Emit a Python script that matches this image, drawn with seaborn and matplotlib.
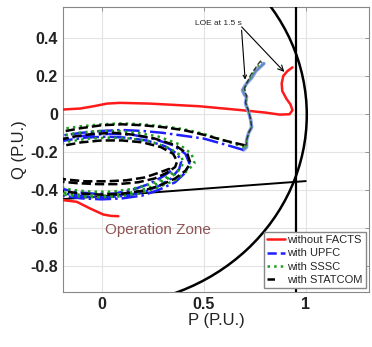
import numpy as np
import pandas as pd
import seaborn as sns
import matplotlib
matplotlib.use("Agg")
import matplotlib.pyplot as plt
from matplotlib.patches import Circle

sns.set_style("white")
plt.rcParams["font.family"] = ["Liberation Sans", "DejaVu Sans"]

# without FACTS (two pieces)
red_p = [-0.25, -0.19, -0.106, -0.04, 0.025, 0.09, 0.237, 0.48, 0.69, 0.80, 0.873,
         0.92, 0.935, 0.925, 0.905, 0.885, 0.882, 0.89, 0.91, 0.935]
red_q = [0.023, 0.023, 0.028, 0.04, 0.054, 0.058, 0.054, 0.04, 0.019, 0.007, -0.004,
         -0.002, 0.019, 0.05, 0.08, 0.12, 0.16, 0.20, 0.225, 0.245]
red2_p = [-0.25, -0.19, -0.122, -0.057, 0.008, 0.045, 0.082]
red2_q = [-0.455, -0.454, -0.463, -0.498, -0.53, -0.537, -0.539]

# with UPFC: fault-on wiggle, then the swing loops
upfc_wig_p = [0.795, 0.775, 0.755, 0.735, 0.71, 0.69, 0.70, 0.71, 0.705, 0.72, 0.73, 0.735, 0.72, 0.71, 0.71, 0.695]
upfc_wig_q = [0.265, 0.245, 0.225, 0.19, 0.16, 0.125, 0.10, 0.09, 0.055, 0.01, -0.03, -0.07, -0.10, -0.14, -0.175, -0.19]
upfc_p = [0.695, 0.60, 0.50, 0.40, 0.30, 0.20, 0.10, 0.00, -0.10, -0.20, -0.30, -0.36, -0.36, -0.30, -0.20,
          -0.10, 0.00, 0.10, 0.20, 0.28, 0.36, 0.41, 0.43, 0.41, 0.35, 0.25, 0.15, 0.05, -0.05, -0.15,
          -0.25, -0.33, -0.34, -0.28, -0.18, -0.08, 0.02, 0.12, 0.21, 0.28, 0.34, 0.38, 0.39, 0.37,
          0.31, 0.22, 0.12, 0.02, -0.08, -0.18, -0.27, -0.32, -0.31, -0.24, -0.14, -0.04, 0.06, 0.15,
          0.23, 0.30, 0.34]
upfc_q = [-0.19, -0.16, -0.13, -0.115, -0.10, -0.09, -0.085, -0.09, -0.10, -0.115, -0.15, -0.22, -0.32, -0.39, -0.43,
          -0.445, -0.45, -0.445, -0.43, -0.40, -0.36, -0.31, -0.26, -0.21, -0.165, -0.13, -0.11, -0.105, -0.11, -0.125,
          -0.15, -0.21, -0.31, -0.38, -0.42, -0.435, -0.44, -0.43, -0.41, -0.38, -0.34, -0.29, -0.25, -0.21,
          -0.17, -0.14, -0.125, -0.12, -0.125, -0.14, -0.17, -0.24, -0.32, -0.38, -0.41, -0.42, -0.42, -0.40,
          -0.37, -0.33, -0.30]

# with SSSC
sssc_wig_p = [0.785, 0.77, 0.75, 0.735, 0.715, 0.70, 0.705, 0.71, 0.705, 0.72, 0.73, 0.735, 0.72, 0.71, 0.71, 0.70]
sssc_wig_q = [0.275, 0.255, 0.235, 0.20, 0.17, 0.135, 0.11, 0.095, 0.06, 0.015, -0.03, -0.07, -0.10, -0.14, -0.165, -0.175]
sssc_p = [0.70, 0.60, 0.50, 0.40, 0.30, 0.20, 0.10, 0.00, -0.10, -0.20, -0.30, -0.37, -0.38, -0.32, -0.22,
          -0.12, -0.02, 0.08, 0.18, 0.27, 0.36, 0.42, 0.455, 0.44, 0.38, 0.28, 0.18, 0.08, -0.02, -0.12,
          -0.22, -0.31, -0.35, -0.33, -0.26, -0.16, -0.06, 0.04, 0.14, 0.23, 0.31, 0.37, 0.40, 0.39,
          0.33, 0.24, 0.14, 0.04, -0.06, -0.16, -0.25, -0.31, -0.31, -0.25, -0.15, -0.05, 0.05, 0.15,
          0.24, 0.31, 0.36]
sssc_q = [-0.175, -0.14, -0.105, -0.08, -0.065, -0.055, -0.05, -0.055, -0.065, -0.08, -0.12, -0.20, -0.31, -0.38, -0.42,
          -0.435, -0.44, -0.435, -0.42, -0.39, -0.35, -0.30, -0.26, -0.21, -0.16, -0.12, -0.10, -0.09, -0.09, -0.10,
          -0.12, -0.17, -0.25, -0.33, -0.39, -0.42, -0.43, -0.43, -0.415, -0.39, -0.35, -0.31, -0.26, -0.22,
          -0.18, -0.145, -0.13, -0.125, -0.13, -0.145, -0.18, -0.25, -0.32, -0.37, -0.40, -0.41, -0.41, -0.395,
          -0.37, -0.34, -0.30]

# with STATCOM
statcom_wig_p = [0.78, 0.765, 0.75, 0.73, 0.715, 0.70, 0.705, 0.71, 0.705, 0.72, 0.73, 0.735, 0.72, 0.71, 0.71, 0.70]
statcom_wig_q = [0.28, 0.26, 0.235, 0.205, 0.17, 0.135, 0.11, 0.095, 0.06, 0.015, -0.03, -0.07, -0.10, -0.14, -0.16, -0.165]
statcom_p = [0.70, 0.60, 0.50, 0.40, 0.30, 0.20, 0.10, 0.00, -0.10, -0.20, -0.30, -0.36, -0.36, -0.30, -0.20,
             -0.10, 0.00, 0.10, 0.20, 0.28, 0.36, 0.41, 0.435, 0.42, 0.36, 0.26, 0.16, 0.06, -0.04, -0.14,
             -0.24, -0.32, -0.34, -0.30, -0.22, -0.12, -0.02, 0.08, 0.18, 0.26, 0.32, 0.36, 0.37, 0.35,
             0.29, 0.20, 0.10, 0.00, -0.10, -0.20, -0.28, -0.30, -0.26, -0.18, -0.08, 0.02, 0.12, 0.21,
             0.28, 0.33, 0.35]
statcom_q = [-0.165, -0.14, -0.11, -0.085, -0.07, -0.06, -0.055, -0.06, -0.075, -0.095, -0.135, -0.21, -0.31, -0.37, -0.405,
             -0.42, -0.425, -0.42, -0.405, -0.38, -0.34, -0.30, -0.26, -0.21, -0.165, -0.13, -0.11, -0.10, -0.105, -0.12,
             -0.145, -0.20, -0.28, -0.33, -0.355, -0.365, -0.37, -0.37, -0.36, -0.34, -0.31, -0.28, -0.25, -0.21,
             -0.175, -0.15, -0.14, -0.14, -0.15, -0.17, -0.21, -0.27, -0.32, -0.345, -0.355, -0.355, -0.35, -0.335,
             -0.31, -0.29, -0.30]

# boundaries
circle_center = (0.0, -0.005)
circle_radius = 1.005
vline_p = 0.951
limit_p = [-0.19, 1.0]
limit_q = [-0.449, -0.354]

xticks = [0, 0.5, 1]
yticks = [0.4, 0.2, 0, -0.2, -0.4, -0.6, -0.8]

red_df = pd.DataFrame({"P": red_p + red2_p, "Q": red_q + red2_q,
                       "seg": [0] * len(red_p) + [1] * len(red2_p)})

fig = plt.figure(figsize=(3.72, 3.47), dpi=100)
ax = fig.add_axes([0.169, 0.159, 0.823, 0.821])

ax.add_patch(Circle(circle_center, circle_radius, fill=False, color="black", lw=1.8, zorder=3))
ax.axvline(vline_p, color="black", lw=1.6, zorder=3)
ax.plot(limit_p, limit_q, color="black", lw=1.4, zorder=3)

sns.lineplot(data=red_df, x="P", y="Q", units="seg", estimator=None, sort=False,
             color="#ff1a1a", lw=1.8, ax=ax, zorder=4)

# wiggle part: thin, overlapping traces
sns.lineplot(x=upfc_wig_p, y=upfc_wig_q, sort=False, estimator=None,
             color="#8f9cff", lw=2.6, ax=ax, zorder=4)
sns.lineplot(x=upfc_wig_p, y=upfc_wig_q, sort=False, estimator=None,
             color="#5f8aa6", lw=1.2, ax=ax, zorder=5)
sns.lineplot(x=sssc_wig_p, y=sssc_wig_q, sort=False, estimator=None,
             color="#1e9e1e", lw=1.3, ls=":", ax=ax, zorder=5)
sns.lineplot(x=statcom_wig_p, y=statcom_wig_q, sort=False, estimator=None,
             color="#333333", lw=1.0, ls="--", dashes=(2, 3), ax=ax, zorder=5)

# swing loops
sns.lineplot(x=upfc_p, y=upfc_q, sort=False, estimator=None,
             color="#1f1fff", lw=1.8, ls="-.", ax=ax, zorder=4)
sns.lineplot(x=sssc_p, y=sssc_q, sort=False, estimator=None,
             color="#1e9e1e", lw=1.8, ls=":", ax=ax, zorder=5)
sns.lineplot(x=statcom_p, y=statcom_q, sort=False, estimator=None,
             color="black", lw=1.8, ls="--", ax=ax, zorder=5)

# legend handles
hr, = ax.plot([], [], color="#ff1a1a", lw=1.8, label="without FACTS")
hu, = ax.plot([], [], color="#1f1fff", lw=1.8, ls="--", label="with UPFC")
hs, = ax.plot([], [], color="#1e9e1e", lw=1.8, ls=":", label="with SSSC")
hc, = ax.plot([], [], color="black", lw=1.8, ls="--", dashes=(3, 6), label="with STATCOM")
leg = ax.legend([hr, hu, hs, hc], ["without FACTS", "with UPFC", "with SSSC", "with STATCOM"],
                loc="lower right", fontsize=8, handlelength=1.6,
                handletextpad=0.2, borderpad=0.3, labelspacing=0.3, framealpha=1,
                fancybox=False, edgecolor="#888888", borderaxespad=0.3)
leg.set_zorder(10)

ax.annotate("LOE at 1.5 s", xy=(0.703, 0.18), xytext=(0.455, 0.476), fontsize=6,
            va="center", arrowprops=dict(arrowstyle="->", color="black", lw=0.8,
                                         shrinkA=0, shrinkB=0, relpos=(1, 0.2)))
ax.annotate("", xy=(0.895, 0.221), xytext=(0.686, 0.458),
            arrowprops=dict(arrowstyle="->", color="black", lw=0.8, shrinkA=0, shrinkB=0))

ax.text(0.277, -0.61, "Operation Zone", fontsize=11, color="#8e5555", ha="center", va="center")

ax.set_xlim(-0.19, 1.31)
ax.set_ylim(-0.937, 0.563)
ax.set_xticks(xticks)
ax.set_xticklabels(["0", "0.5", "1"])
ax.set_yticks(yticks)
ax.set_yticklabels(["0.4", "0.2", "0", "-0.2", "-0.4", "-0.6", "-0.8"])
ax.grid(True, color="#e3e3e3", lw=0.8)
ax.set_axisbelow(True)
ax.tick_params(axis="both", direction="in", length=3, labelsize=11.5, width=0.6,
               top=True, right=True, colors="#888888", labelcolor="#222222")
for t in ax.get_xticklabels() + ax.get_yticklabels():
    t.set_fontweight("bold")
for s in ax.spines.values():
    s.set_color("#888888")
    s.set_linewidth(0.8)
ax.set_xlabel("P (P.U.)", fontsize=12, labelpad=1, color="#222222")
ax.set_ylabel("Q (P.U.)", fontsize=12, labelpad=2, color="#222222")

fig.savefig("out.png", dpi=100)
